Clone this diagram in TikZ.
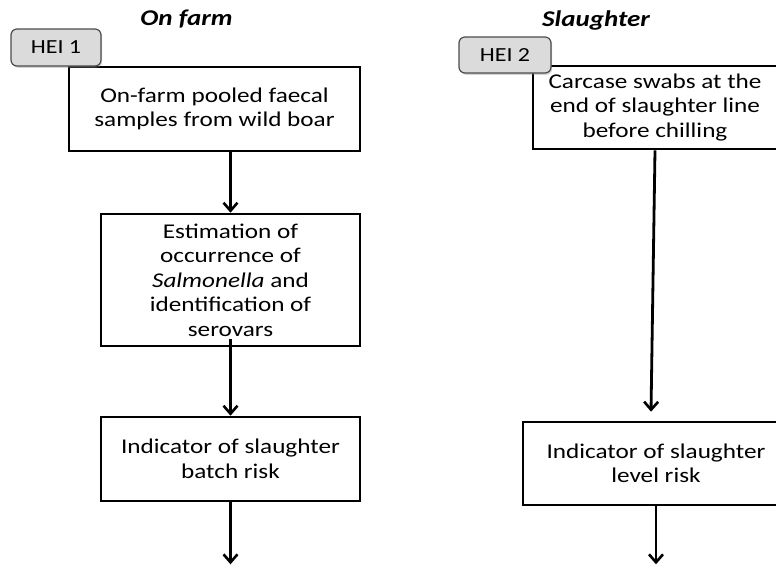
\documentclass[tikz,border=0pt]{standalone}
\usepackage{fontspec}
\setmainfont[FakeStretch=1.2]{Carlito}
\usetikzlibrary{arrows.meta,shadows}
\begin{document}
\begin{tikzpicture}[x=1pt,y=-1pt,
  box/.style={draw=black,line width=2.6pt,fill=white,align=center,inner sep=0pt,
     font=\fontsize{21}{24.5}\selectfont},
  hei/.style={draw=black!70,line width=1.2pt,fill=black!14,rounded corners=6pt,
     inner sep=0pt,minimum width=90pt,minimum height=37pt,font=\fontsize{20}{24}\selectfont,
     drop shadow={opacity=0.35,shadow xshift=1.2pt,shadow yshift=-1.8pt}},
  ttl/.style={font=\fontsize{22.5}{24}\selectfont\bfseries\itshape,inner sep=0pt},
  arr/.style={line width=2.8pt,-{Straight Barb[length=8pt,width=14pt,line width=2.6pt]}}]
\useasboundingbox (0,0) rectangle (776,565);
\clip (0,0) rectangle (776,565);
% titles
\node[ttl] (t1) at (186.5,19) {On farm};
\node[ttl] (t2) at (596,21) {Slaughter};
% left column
\node[box,minimum width=291pt,minimum height=84pt] (b1) at (214.5,109)
  {On-farm pooled faecal\\samples from wild boar};
\node[box,minimum width=259pt,minimum height=132pt] (b2) at (230.5,280)
  {Estimation of\\occurrence of\\\textit{Salmonella} and\\identification of\\serovars};
\node[box,minimum width=259pt,minimum height=84pt] (b3) at (230.5,459)
  {Indicator of slaughter\\batch risk};
\node[hei] (h1) at (56,47.5) {HEI 1};
% right column
\node[box,minimum width=244pt,minimum height=83pt] (r1) at (655,107.5)
  {Carcase swabs at the\\end of slaughter line\\before chilling};
\node[box,minimum width=266pt,minimum height=83pt] (r2) at (656,463.5)
  {Indicator of slaughter\\level risk};
\node[hei,minimum width=92pt,minimum height=36pt] (h2) at (505,55) {HEI 2};
% connectors
\coordinate (s2) at ([yshift=8pt]b2.south);
\coordinate (e3) at ([yshift=-62pt]b3.south);
\coordinate (e1r) at ([xshift=-5pt,yshift=9pt]r2.north);
\coordinate (e2r) at ([yshift=-58pt]r2.south);
\draw[arr] (b1.south -| b2.north) -- (b2.north);
\draw[arr] (s2) -- (b3.north);
\draw[arr] (b3.south) -- (e3);
\draw[arr] (r1.south) -- (e1r);
\draw[arr] (r2.south) -- (e2r);
\end{tikzpicture}
\end{document}
